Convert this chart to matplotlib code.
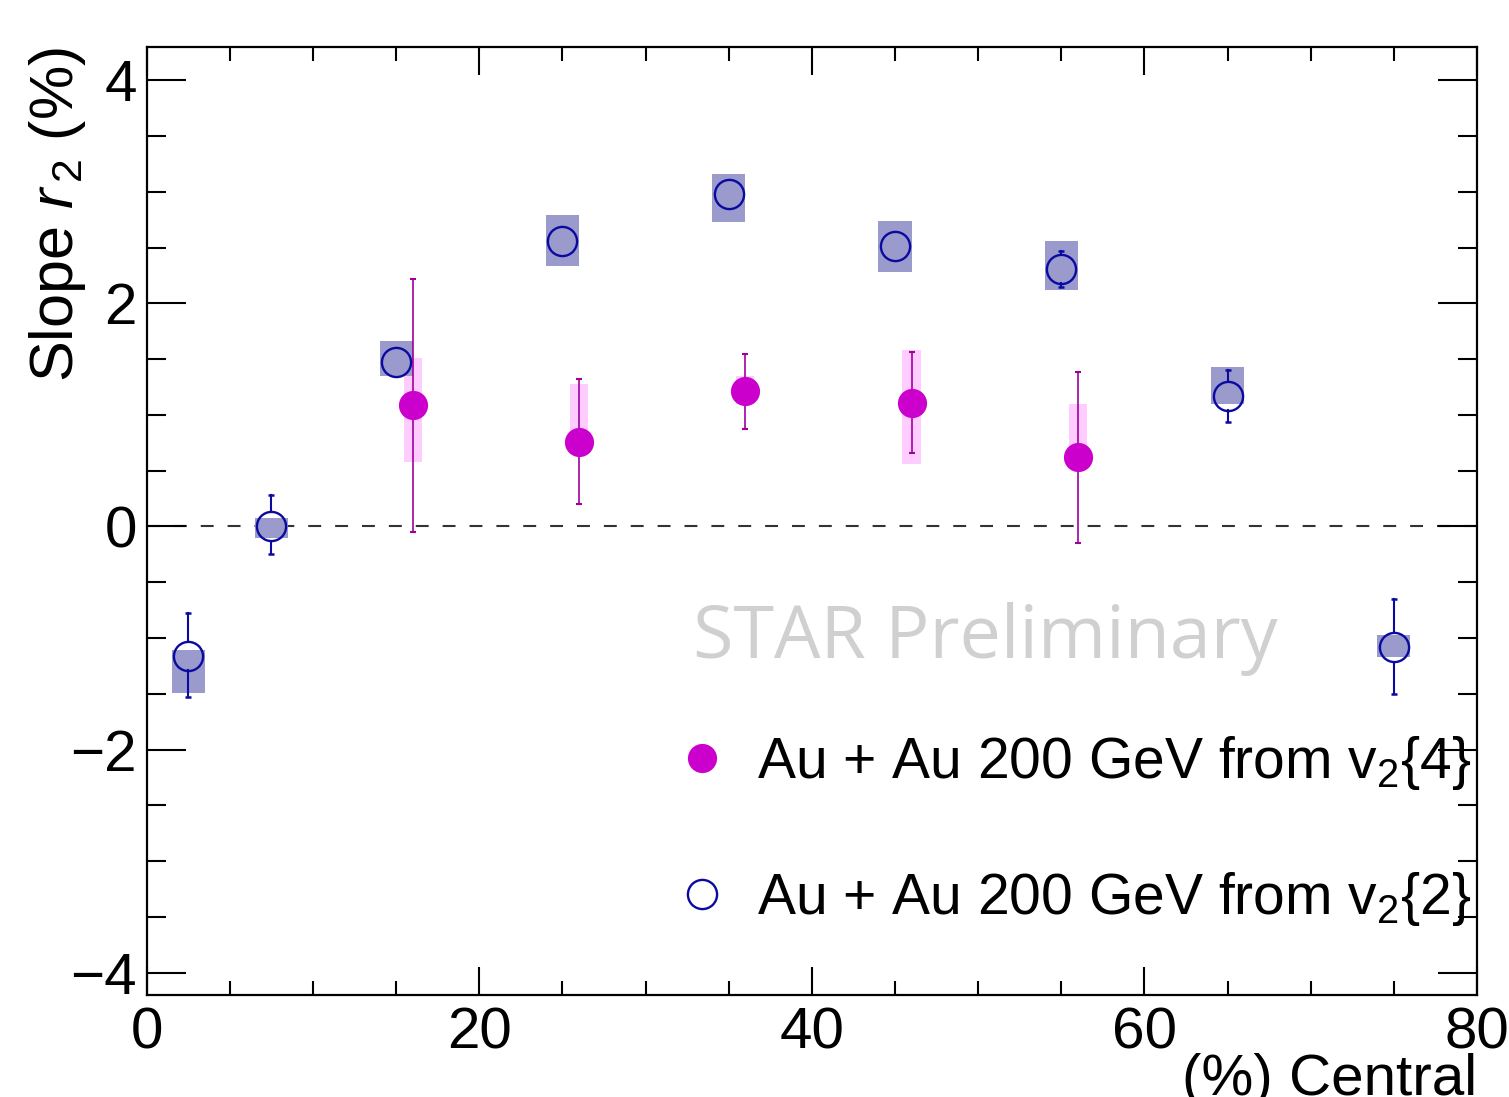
import matplotlib
matplotlib.use("Agg")
import matplotlib.pyplot as plt
from matplotlib.lines import Line2D
from matplotlib.patches import Rectangle
from matplotlib.ticker import MultipleLocator

plt.rcParams['font.family'] = ['Liberation Sans', 'DejaVu Sans']
plt.rcParams['mathtext.fontset'] = 'custom'
plt.rcParams['mathtext.rm'] = 'Liberation Sans'
plt.rcParams['mathtext.it'] = 'Liberation Sans:italic'

# ---------------- data ----------------
# v2{2}: open circles
cent2 = [2.5, 7.5, 15, 25, 35, 45, 55, 65, 75]
r2_v2 = [-1.16, 0.00, 1.47, 2.56, 2.98, 2.51, 2.31, 1.17, -1.08]
stat2_hi = [0.38, 0.28, 0.10, 0.10, 0.10, 0.10, 0.155, 0.23, 0.43]
stat2_lo = [0.37, 0.25, 0.10, 0.10, 0.10, 0.10, 0.165, 0.23, 0.42]
sys2_top = [-1.11, 0.08, 1.66, 2.79, 3.16, 2.74, 2.56, 1.43, -0.97]
sys2_bot = [-1.49, -0.10, 1.35, 2.33, 2.73, 2.28, 2.12, 1.10, -1.17]

# v2{4}: filled circles
cent4 = [16, 26, 36, 46, 56]
r2_v4 = [1.09, 0.76, 1.21, 1.11, 0.62]
stat4_hi = [1.13, 0.56, 0.335, 0.45, 0.76]
stat4_lo = [1.14, 0.56, 0.335, 0.45, 0.77]
sys4_top = [1.51, 1.28, 1.35, 1.58, 1.10]
sys4_bot = [0.58, 0.70, 1.10, 0.56, 0.52]

sys2_halfwidth = 1.0
sys4_halfwidth = 0.55

label4 = "Au + Au 200 GeV from v$_2${4}"
label2 = "Au + Au 200 GeV from v$_2${2}"

# ---------------- style ----------------
c_blue = '#0a0aa0'
c_blue_box = '#9a9acc'
c_mag = '#cc00cc'
c_mag_err = '#9e009e'
c_mag_box = '#ffccff'
ms = 21

W, H = 1509, 1097
fig = plt.figure(figsize=(W / 100, H / 100), dpi=100)
ax = fig.add_axes([146.7 / W, 1 - 995 / H, 1330.3 / W, 948.3 / H])
ax.set_xlim(0, 80)
ax.set_ylim(-4.2, 4.3)

# y-radius of marker in data units
r_px = (ms / 2) * fig.dpi / 72.0
y_per_px = (4.3 + 4.2) / (948.3)
r_data = r_px * y_per_px

ax.axhline(0, color='#333333', lw=1.5, dashes=(6.2, 6.7), zorder=1)

# systematic boxes
for x, t, b in zip(cent4, sys4_top, sys4_bot):
    ax.add_patch(Rectangle((x - sys4_halfwidth, b), 2 * sys4_halfwidth, t - b,
                           facecolor=c_mag_box, edgecolor='none', zorder=2))
for x, t, b in zip(cent2, sys2_top, sys2_bot):
    ax.add_patch(Rectangle((x - sys2_halfwidth, b), 2 * sys2_halfwidth, t - b,
                           facecolor=c_blue_box, edgecolor='none', zorder=3))

# v2{4} error bars + markers
ax.errorbar(cent4, r2_v4, yerr=[stat4_lo, stat4_hi], fmt='none', ecolor=c_mag_err,
            elinewidth=1.2, capsize=2.5, capthick=1.5, zorder=4)
ax.plot(cent4, r2_v4, ls='none', marker='o', ms=ms, mfc=c_mag, mec=c_mag, mew=0, zorder=5)

# v2{2} error bars (outside the hollow marker only) + markers
for x, y, lo, hi in zip(cent2, r2_v2, stat2_lo, stat2_hi):
    if hi > r_data:
        ax.plot([x, x], [y + r_data, y + hi], color=c_blue, lw=1.5, zorder=6)
        ax.plot([x], [y + hi], marker='_', ms=5, mew=1.8, color=c_blue, zorder=6)
    if lo > r_data:
        ax.plot([x, x], [y - r_data, y - lo], color=c_blue, lw=1.5, zorder=6)
        ax.plot([x], [y - lo], marker='_', ms=5, mew=1.8, color=c_blue, zorder=6)
ax.plot(cent2, r2_v2, ls='none', marker='o', ms=ms, mfc='none', mec=c_blue, mew=1.7, zorder=7)

# axes styling
for s in ax.spines.values():
    s.set_linewidth(1.6)
ax.xaxis.set_major_locator(MultipleLocator(20))
ax.xaxis.set_minor_locator(MultipleLocator(5))
ax.yaxis.set_major_locator(MultipleLocator(2))
ax.yaxis.set_minor_locator(MultipleLocator(0.5))
ax.tick_params(which='both', direction='in', top=True, right=True, width=1.5, labelsize=42)
ax.tick_params(axis='x', which='major', length=20, pad=8)
ax.tick_params(axis='x', which='minor', length=10)
ax.tick_params(axis='y', which='major', length=28, pad=7)
ax.tick_params(axis='y', which='minor', length=14)

ax.set_ylabel("Slope $r_{\\,2}$ (%)", fontsize=44, loc='top')
ax.yaxis.set_label_coords(-0.044, 1.0)
ax.set_xlabel("(%) Central", fontsize=42, loc='right')
ax.xaxis.set_label_coords(1.0, -0.061)

ax.text(32.85, -1.18, "STAR Preliminary", fontsize=53, color='#d0d0d0',
        family=['Open Sans', 'DejaVu Sans'], ha='left', va='baseline', zorder=1)

h4 = Line2D([], [], ls='none', marker='o', ms=ms, mfc=c_mag, mec=c_mag, mew=0)
h2 = Line2D([], [], ls='none', marker='o', ms=ms, mfc='none', mec=c_blue, mew=1.7)
ax.legend([h4, h2], [label4, label2], loc='upper left', bbox_to_anchor=(0.4043, 0.2748),
          frameon=False, fontsize=41, handlelength=0.6, handletextpad=0.68,
          labelspacing=1.36, borderpad=0, borderaxespad=0)

fig.savefig("out.png", dpi=100)
